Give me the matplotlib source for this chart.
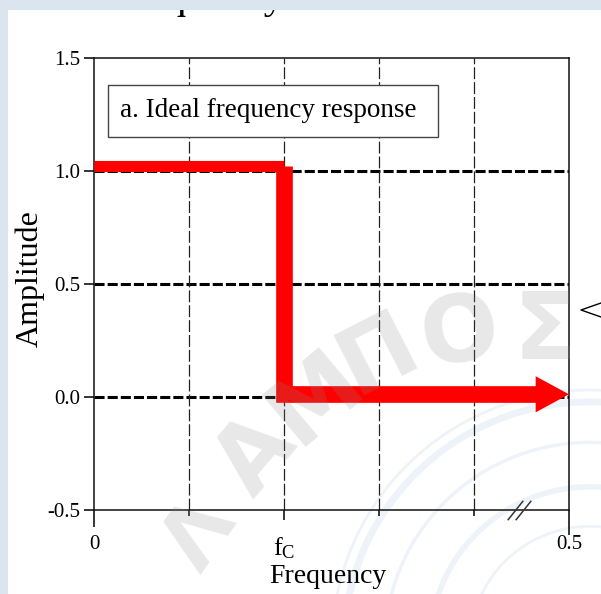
import matplotlib
matplotlib.use("Agg")
import matplotlib.pyplot as plt
from matplotlib.patches import Rectangle, Circle
from matplotlib.lines import Line2D

plt.rcParams['font.family'] = ['Liberation Serif', 'DejaVu Serif']
plt.rcParams['mathtext.fontset'] = 'custom'
plt.rcParams['mathtext.rm'] = 'Liberation Serif'
plt.rcParams['mathtext.it'] = 'Liberation Serif:italic'

# ideal low-pass response
fc = 0.2
response_x = [0.0, fc, fc, 0.5]
response_y = [1.02, 1.02, 0.012, 0.012]

y_ticks = [-0.5, 0.0, 0.5, 1.0, 1.5]
y_ticklabels = ['-0.5', '0.0', '0.5', '1.0', '1.5']
x_ticks = [0.0, fc, 0.5]
x_ticklabels = ['0', r'$\mathrm{f_C}$', '0.5']
x_minor = [0.1, 0.3, 0.4]
h_grid = [0.0, 0.5, 1.0]
v_grid = [0.1, 0.2, 0.3, 0.4]

W, H = 601, 594


def px(x, y):
    # pixel position (from top-left) -> figure fraction
    return x / W, 1 - y / H


fig = plt.figure(figsize=(W / 100, H / 100), dpi=100, facecolor='#dbe5f0')

# white page
panel = Rectangle(px(8, H), 1, (H - 10) / H, transform=fig.transFigure,
                  facecolor='white', edgecolor='none', zorder=-3)
fig.add_artist(panel)

# faint emblem in the lower right
for r, lw in [(258, 2.0), (246, 5.0), (205, 2.5), (160, 4.0), (120, 2.0)]:
    c = Circle(px(590, 645), r / W, transform=fig.transFigure, fill=False,
               edgecolor='#eef3f9', lw=lw, zorder=-2)
    fig.add_artist(c)

# heading cut by the page edge
head = fig.text(*px(112, 8), 'Frequency', fontsize=29.5, va='baseline',
                ha='left', color='black', zorder=-1)
head.set_clip_path(panel)

ax = fig.add_axes([94 / W, 1 - 510 / H, 475 / W, 452 / H])
ax.set_facecolor('none')
ax.set_xlim(0, 0.5)
ax.set_ylim(-0.5, 1.5)

for s in ax.spines.values():
    s.set_linewidth(1.1)
    s.set_color('#111111')

# grid
for y in h_grid:
    ax.axhline(y, color='black', lw=2.2, linestyle=(0, (3.3, 1.0)), zorder=1)
for x in v_grid:
    ax.axvline(x, color='#222222', lw=0.9, linestyle=(0, (9.5, 2.4)), zorder=1)

# ticks
ax.set_yticks(y_ticks)
ax.set_yticklabels(y_ticklabels, fontsize=15)
ax.tick_params(axis='y', direction='out', length=7, width=1.1, pad=3)
ax.set_xticks(x_ticks)
ax.set_xticklabels(x_ticklabels, fontsize=15)
ax.set_xticks(x_minor, minor=True)
ax.tick_params(axis='x', which='major', direction='out', length=7, width=1.1, pad=11)
ax.tick_params(axis='x', which='minor', direction='out', length=4.5, width=1.1)
xt = ax.xaxis.get_major_ticks()
xt[0].tick1line.set_markersize(12)
xt[2].tick1line.set_markersize(18)
ax.get_xticklabels()[1].set_fontsize(19)

# axis break marks
ax.plot([0.443, 0.452], [-0.5, -0.5], linestyle='none',
        marker=[(-1, -1.25), (1, 1.25)], markersize=14, mec='#333333',
        mew=1.1, clip_on=False, zorder=5)

ax.set_xlabel('Frequency', fontsize=20)
ax.xaxis.set_label_coords(0.493, -0.12)
ax.set_ylabel('Amplitude', fontsize=23)
ax.yaxis.set_label_coords(-0.103, 0.513)

# label box
ax.add_patch(Rectangle((0.0295, 0.825), 0.6945, 0.115, transform=ax.transAxes,
                       facecolor='white', edgecolor='#444444', lw=1.0, zorder=3))
ax.text(0.366, 0.883, 'a. Ideal frequency response', transform=ax.transAxes,
        fontsize=19.5, ha='center', va='center', zorder=4)

# red response curve with arrow head
red = '#ff0000'
ax.plot(response_x[:2], response_y[:2], color=red, lw=8,
        solid_capstyle='butt', clip_on=False, zorder=4)
ax.plot(response_x[1:3] + [response_x[3] - 0.03], response_y[1:], color=red, lw=12,
        solid_joinstyle='miter', solid_capstyle='butt', clip_on=False, zorder=4)
ax.annotate('', xy=(response_x[3], response_y[3]),
            xytext=(response_x[3] - 0.04, response_y[3]),
            arrowprops=dict(arrowstyle='-|>,head_length=24,head_width=13',
                            mutation_scale=1, lw=0, color=red,
                            shrinkA=0, shrinkB=0),
            zorder=4)

# watermark
marks = [('Λ', 200, 535, 55, 60), ('Α', 256, 456, 50, 66),
         ('Μ', 316, 398, 40, 66), ('Π', 378, 354, 27, 66),
         ('Ο', 460, 335, 10, 66), ('Σ', 545, 333, 0, 66)]
for ch, x, y, rot, size in marks:
    fig.text(*px(x, y), ch, fontsize=size, fontweight='bold', family='DejaVu Sans',
             color='0.55', alpha=0.2, rotation=rot, ha='center', va='center',
             rotation_mode='anchor', zorder=6)

# pointer at the right edge
fig.add_artist(Line2D([601 / W, 581 / W, 601 / W],
                      [1 - 303 / H, 1 - 310 / H, 1 - 317 / H],
                      transform=fig.transFigure, color='black', lw=1.0))

fig.savefig('out.png', dpi=100, facecolor=fig.get_facecolor())
